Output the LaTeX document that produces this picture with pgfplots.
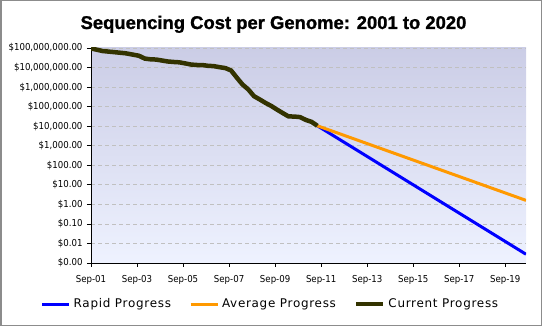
\documentclass[border=0pt]{standalone}
\usepackage{pgfplots}
\pgfplotsset{compat=1.18}
\usepackage{fontspec}
\setmainfont{DejaVu Sans}
\newfontfamily\titlefont{Liberation Sans Bold}[FakeBold=1.2]
\newfontfamily\tickfont{DejaVu Sans Condensed}
\newfontfamily\legendfont{DejaVu Sans}[LetterSpace=6]
\definecolor{rapid}{RGB}{0,0,255}
\definecolor{avg}{RGB}{255,153,0}
\definecolor{curr}{RGB}{51,51,0}
\definecolor{bgtop}{RGB}{203,205,230}
\definecolor{bgbot}{RGB}{238,242,255}
\definecolor{gridc}{RGB}{192,192,192}
\begin{document}
\begin{tikzpicture}
\useasboundingbox (0,0) rectangle (542bp,326bp);
\draw[line width=1.5bp, color={rgb,255:red,140;green,140;blue,140}] (0.75bp,0.75bp) rectangle (541.25bp,325.25bp);
\node[anchor=base, font=\titlefont\fontsize{18.5}{20}\selectfont] at (273.5bp,297bp) {Sequencing Cost per Genome: 2001 to 2020};
\begin{axis}[
  at={(91bp,63bp)}, anchor=south west,
  scale only axis, width=435bp, height=215bp,
  ymode=log, ymin=0.001, ymax=1e8,
  xmin=0, xmax=18.9,
  axis lines*=left,
  axis line style={black, line width=0.8bp},
  axis background/.style={shade, top color=bgtop, bottom color=bgbot, draw=none},
  ytick={1e-3,1e-2,1e-1,1,10,100,1000,1e4,1e5,1e6,1e7,1e8},
  yticklabels={\$0.00,\$0.01,\$0.10,\$1.00,\$10.00,\$100.00,\$1{,}000.00,\$10{,}000.00,\$100{,}000.00,\$1{,}000{,}000.00,\$10{,}000{,}000.00,\$100{,}000{,}000.00},
  xtick={0,2,4,6,8,10,12,14,16,18},
  xticklabels={Sep-01,Sep-03,Sep-05,Sep-07,Sep-09,Sep-11,Sep-13,Sep-15,Sep-17,Sep-19},
  minor tick num=0, log basis y=10,
  tick align=outside, major tick length=4bp,
  tick style={black, line width=0.8bp},
  ymajorgrids, major grid style={gridc, dash pattern=on 4bp off 3bp, line width=0.8bp},
  tick label style={font=\tickfont\fontsize{9.6}{11}\selectfont},
  yticklabel style={xshift=-1bp},
  xticklabel style={yshift=-5bp},
  legend columns=3,
  legend style={at={(0.4126,-0.1907)}, anchor=center, draw=none, fill=none,
    font=\legendfont\fontsize{12}{14}\selectfont, inner sep=0pt,
    /tikz/every odd column/.append style={column sep=1bp},
    /tikz/every even column/.append style={column sep=16bp}},
  legend image code/.code={\draw[#1] (0bp,0bp) -- (27bp,0bp);},
]
\addplot[rapid, line width=3bp] coordinates {
(9.833,10497) (11,1496) (12,282) (13,53.1) (14,10.0) (15,1.88) (16,0.355) (17,0.0668) (18,0.0126) (18.9,0.0028)};
\addlegendentry{Rapid Progress}
\addplot[avg, line width=3bp] coordinates {
(9.833,10497) (12,1285) (14,185) (16,26.6) (18,3.83) (18.9,1.6)};
\addlegendentry{Average Progress}
\addplot[curr, line width=4.5bp, line join=round] coordinates {
(0,95263072) (0.5,70175437) (1.0,61448422) (1.5,53751684) (2.083,40157554)
(2.333,28780376) (2.583,26413295) (2.833,25617534) (3.083,22909889)
(3.333,20442576) (3.583,19299484) (3.833,18516443) (4.083,16395842)
(4.333,14311806) (4.583,13501749) (4.833,13416945) (5.083,12278035)
(5.333,11800000) (5.583,10436340) (5.833,9400000) (6.083,7147571)
(6.333,3063820) (6.583,1352982) (6.833,759897) (7.083,342502)
(7.333,232735) (7.583,154714) (7.833,108065) (8.083,70333)
(8.333,46774) (8.583,31512) (8.833,31125) (9.083,29092)
(9.333,20963) (9.583,16712) (9.833,10497)};
\addlegendentry{Current Progress}
\end{axis}
\end{tikzpicture}
\end{document}
